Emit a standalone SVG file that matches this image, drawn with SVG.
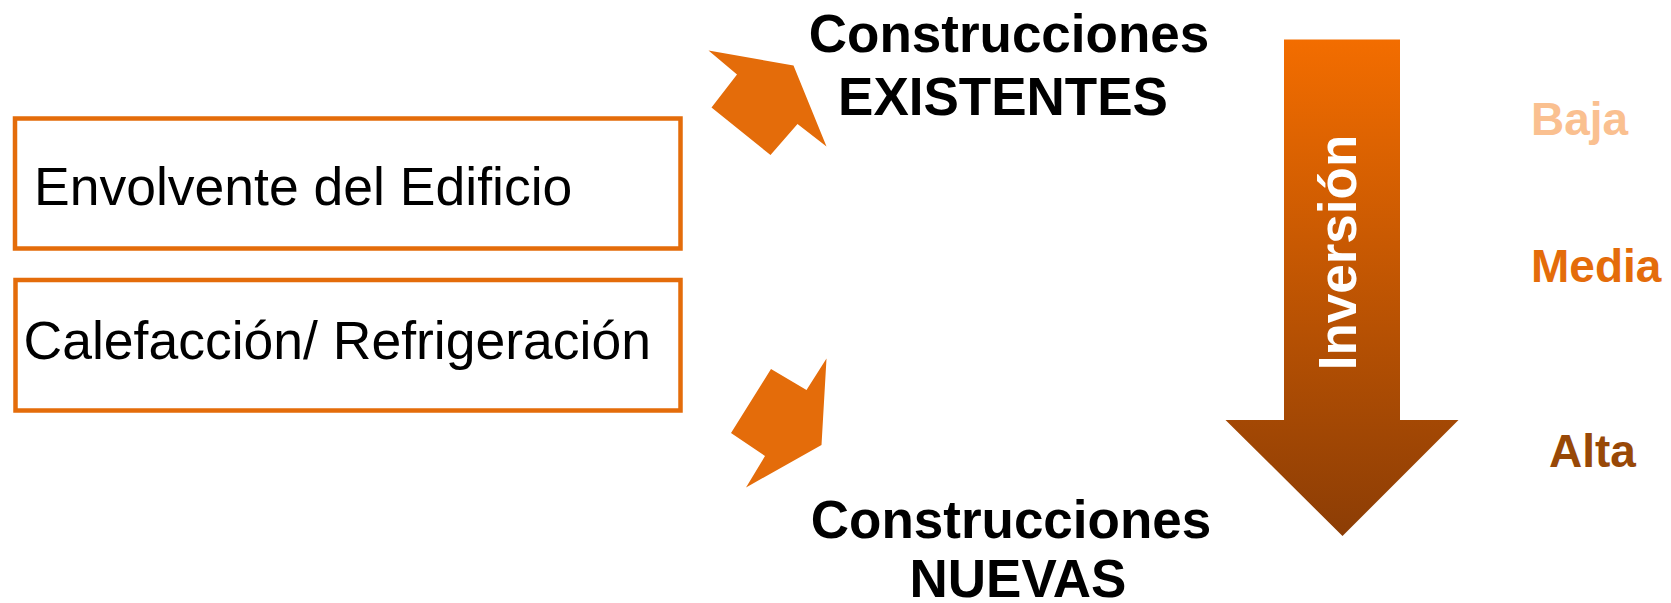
<svg xmlns="http://www.w3.org/2000/svg" width="1671" height="603" viewBox="0 0 1671 603">
  <style>
    .box { fill: #FFFFFF; stroke: #E46C0A; stroke-width: 4.5; }
    .boxtext { font-family: "Liberation Sans", Arial, sans-serif; font-size: 53.5px; fill: #000000; }
    .head { font-family: "Liberation Sans", Arial, sans-serif; font-size: 53px; font-weight: bold; fill: #000000; text-anchor: middle; }
    .level { font-family: "Liberation Sans", Arial, sans-serif; font-size: 46px; font-weight: bold; }
    .blockarrow { fill: #E46C0A; }
  </style>
  <defs>
    <linearGradient id="invGrad" gradientUnits="userSpaceOnUse" x1="0" y1="39" x2="0" y2="536">
      <stop offset="0" stop-color="#F36D00"/>
      <stop offset="1" stop-color="#8C3D05"/>
    </linearGradient>
  </defs>
  <rect width="1671" height="603" fill="#FFFFFF"/>

  <g id="envolvente">
    <rect class="box" x="15" y="118.5" width="665.5" height="130"/>
    <text class="boxtext" x="34" y="204.5">Envolvente del Edificio</text>
  </g>

  <g id="calefaccion">
    <rect class="box" x="15.5" y="280" width="665" height="130.5"/>
    <text class="boxtext" x="23.5" y="358.5">Calefacción/ Refrigeración</text>
  </g>

  <g id="connectors">
    <polygon class="blockarrow" points="708.5,50.5 793.5,65.5 826.5,146.5 797.5,124 770.5,155 711.5,107.5 737,74.5"/>
    <polygon class="blockarrow" points="826.5,358.5 821.5,445 746,487.5 765,456 731,433 771,369 806.5,390"/>
  </g>

  <g id="existentes">
    <text class="head" x="1009" y="52">Construcciones</text>
    <text class="head" x="1003" y="115">EXISTENTES</text>
  </g>

  <g id="nuevas">
    <text class="head" x="1011" y="538">Construcciones</text>
    <text class="head" x="1018" y="597">NUEVAS</text>
  </g>

  <g id="inversion">
    <polygon fill="url(#invGrad)" points="1284,39.5 1400,39.5 1400,420 1458.5,420 1342.5,536 1225.5,420 1284,420"/>
    <text transform="translate(1356,252.5) rotate(-90)" x="0" y="0" text-anchor="middle" font-family="'Liberation Sans', Arial, sans-serif" font-size="53" font-weight="bold" fill="#FFFFFF">Inversión</text>
  </g>

  <g id="niveles">
    <text class="level" x="1531" y="135" fill="#FAC090">Baja</text>
    <text class="level" x="1531" y="282" fill="#E46C0A">Media</text>
    <text class="level" x="1549" y="466.5" fill="#984807">Alta</text>
  </g>
</svg>
